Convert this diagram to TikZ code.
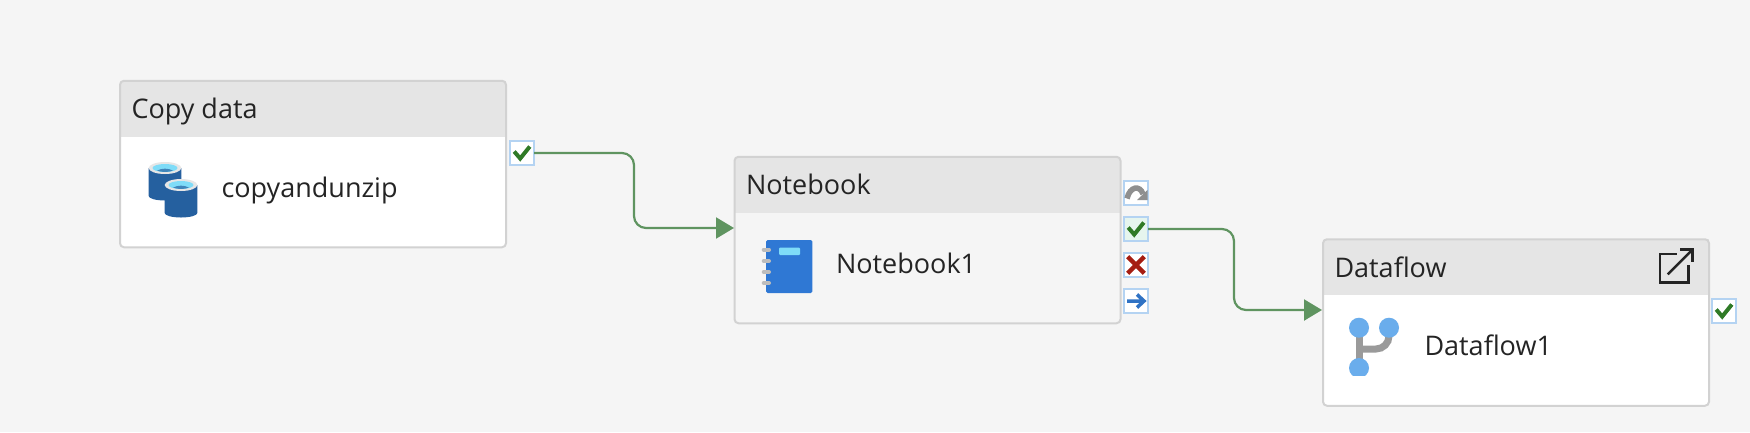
\documentclass[tikz,border=0pt]{standalone}
\usepackage{fontspec}
\setmainfont{Open Sans}
\usepackage{xcolor}
\usepackage{tikz}
\usetikzlibrary{%
	arrows.meta,
	positioning
}
\definecolor{canvas}{HTML}{F5F5F5}
\definecolor{headfill}{HTML}{E5E5E5}
\definecolor{cardline}{HTML}{D2D2D2}
\definecolor{inkdark}{HTML}{242424}
\definecolor{flowgreen}{HTML}{5F9460}
\definecolor{okgreen}{HTML}{2F7A26}
\definecolor{failred}{HTML}{A51D12}
\definecolor{nextblue}{HTML}{2F72C4}
\definecolor{skipgrey}{HTML}{8F8F8F}
\definecolor{btnline}{HTML}{B4D3F2}
\definecolor{dbdark}{HTML}{25609F}
\definecolor{dbcyan}{HTML}{7FDCF8}
\definecolor{dbrim}{HTML}{E6E6E6}
\definecolor{nbblue}{HTML}{2F78D4}
\definecolor{ringgrey}{HTML}{BDBDBD}
\definecolor{dfblue}{HTML}{6AADEC}
\definecolor{dfgrey}{HTML}{9A9A9A}
\definecolor{okfill}{HTML}{E6F5EE}
\tikzstyle{card} = [rectangle, rounded corners=4pt, minimum width=386pt, minimum height=166.5pt, inner sep=0pt, outer sep=0pt]
\tikzstyle{cardhead} = [rectangle, fill=headfill, minimum width=385pt, minimum height=56pt, inner sep=0pt, outer sep=0pt, anchor=north]
\tikzstyle{frame} = [draw=cardline, line width=2pt, rounded corners=4pt]
\tikzstyle{cardtext} = [anchor=base west, inner sep=0pt, outer sep=0pt, text=inkdark, font=\fontsize{27}{32}\selectfont]
\tikzstyle{btn} = [rectangle, draw=btnline, line width=2pt, fill=white, minimum size=24pt, inner sep=0pt, outer sep=0pt]
\tikzstyle{edge} = [draw=flowgreen, line width=2.2pt, rounded corners=12pt, -{Triangle[length=18pt,width=21pt]}]
\tikzstyle{okmark} = [draw=okgreen, line width=4pt]
\begin{document}
\begin{tikzpicture}[x=1pt,y=-1pt]
	
	\useasboundingbox (0,0) rectangle (1750,432);
	\fill[canvas] (0,0) rectangle (1750,432);
	
	% First we draw the cards
	\foreach \pos/\name/\cardtitle/\cardbody/\bodyfill in {{(313,164)/copy/Copy data/copyandunzip/white},
		{(927.5,240)/nb/Notebook/Notebook1/canvas},
		{(1516,322.5)/df/Dataflow/Dataflow1/white}}{
		\node[card, fill=\bodyfill] (\name) at \pos {};
		\node[cardhead] (\name head) at (\name.north) {};
		\draw[frame] (\name.north west) rectangle (\name.south east);
		\node[cardtext] (\name title) at ([shift={(11.5,38)}]\name.north west) {\cardtitle};
		\node[cardtext] (\name body) at ([shift={(101.5,116.5)}]\name.north west) {\cardbody};
	}
	
	% Status buttons
	\foreach \pos/\name/\btnfill in {{(522,153)/copyok/white},
		{(1136,193)/nbskip/white},
		{(1136,229)/nbok/okfill},
		{(1136,265)/nbfail/white},
		{(1136,301)/nbnext/white},
		{(1724,311)/dfok/white}}
	\node[btn, fill=\btnfill] (\name) at \pos {};
	
	% Marks on the buttons
	\foreach \name in {copyok, nbok, dfok}
	\draw[okmark, shift={(\name.center)}] (-7.8,-1.5) -- (-1.8,5.5) -- (7.8,-6.5);
	
	\draw[failred, line width=4.5pt, shift={(nbfail.center)}] (-8.3,-8.3) -- (8.3,8.3) (-8.3,8.3) -- (8.3,-8.3);
	\draw[nextblue, line width=3.5pt, shift={(nbnext.center)}] (-9,0) -- (8,0) (1,-6.5) -- (8,0) -- (1,6.5);
	\draw[skipgrey, line width=5.5pt, shift={(nbskip.center)}] (-9,5.5) .. controls (-6,-7) and (4,-8) .. (7,1);
	\fill[skipgrey, shift={(nbskip.center)}] (11.5,-3) -- (11.5,7) -- (1,7) -- cycle;
	
	% Connect cards with edges
	\coordinate (nbin) at (734,228);
	\coordinate (dfin) at (1322,310);
	\coordinate (copybend) at (634,190);
	\coordinate (nbbend) at (1234,270);
	\path[edge] (copyok.east) -| (copybend) |- (nbin);
	\path[edge] (nbok.east) -| (nbbend) |- (dfin);
	
	% Copy data icon
	\foreach \cx/\cy in {165/168, 181/185}{
		\fill[dbdark] (\cx-16.3,\cy) -- (\cx-16.3,\cy+28) arc[x radius=16.3, y radius=4.5, start angle=180, end angle=0] -- (\cx+16.3,\cy) -- cycle;
		\fill[dbrim] (\cx,\cy) ellipse[x radius=16.3, y radius=6];
		\fill[dbcyan] (\cx,\cy) ellipse[x radius=12.5, y radius=4];
		\fill[dbdark!70!dbcyan] (\cx-8,\cy+2.6) .. controls (\cx-3,\cy) and (\cx+3,\cy) .. (\cx+8,\cy+2.6) .. controls (\cx+3,\cy+4.4) and (\cx-3,\cy+4.4) .. cycle;
	}
	
	% Notebook icon
	\fill[nbblue, rounded corners=1.5pt] (766,240) rectangle (812.3,293);
	\fill[dbcyan, rounded corners=1pt] (779,247.7) rectangle (800,255);
	\foreach \ry in {249.7, 261, 272, 283}
	\draw[ringgrey, line width=4pt, line cap=round] (763.7,\ry) -- (769,\ry);
	
	% Dataflow icon
	\draw[dfgrey, line width=7pt] (1359,330) -- (1359,368);
	\draw[dfgrey, line width=7pt] (1359,349) -- (1376,349) arc[radius=13, start angle=90, end angle=0] -- (1389,330);
	\foreach \dx/\dy in {1359/327.7, 1389/327.7}
	\fill[dfblue] (\dx,\dy) circle[radius=10];
	\begin{scope}
		\clip (1340,350) rectangle (1380,375);
		\fill[dfblue] (1359,368) circle[radius=10];
	\end{scope}
	
	% Open in new tab mark on the dataflow header
	\draw[inkdark, line width=2.5pt] (1676.7,254) -- (1660,254) -- (1660,282.3) -- (1688.3,282.3) -- (1688.3,265);
	\draw[inkdark, line width=2.5pt] (1667.7,274.3) -- (1692.5,249.5);
	\draw[inkdark, line width=2.5pt] (1680,249.3) -- (1692.7,249.3) -- (1692.7,262);
	
\end{tikzpicture}
\end{document}
